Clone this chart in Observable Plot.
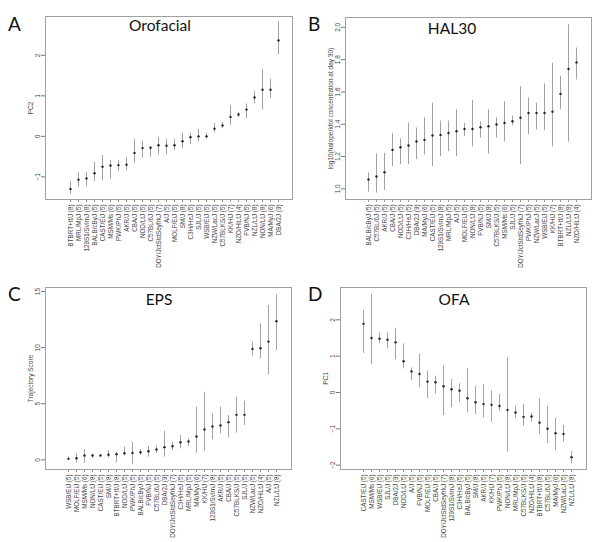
<!DOCTYPE html>
<html><head><meta charset="utf-8">
<script src="https://cdn.jsdelivr.net/npm/d3@7"></script>
<script src="https://cdn.jsdelivr.net/npm/@observablehq/plot@0.6"></script>
<style>
body{margin:0;background:#fff;}
#page{position:relative;width:600px;height:542px;overflow:hidden;font-family:Lato,"Open Sans",sans-serif;}
.panel{position:absolute;width:300px;height:271px;}
.letter{position:absolute;font-size:19px;color:#111;font-family:Lato,sans-serif;}
.title{position:absolute;font-size:15.5px;color:#111;font-family:Lato,sans-serif;transform:translateX(-50%);white-space:nowrap;}
</style></head>
<body><div id="page"></div>
<script>
// ---- Panel A: Orofacial (PC2)
const aNames = ["BTBRT+tf/J (8)","MRL/MpJ (5)","129S1/SvImJ (8)","BALB/cByJ (5)","CAST/EiJ (5)","MSM/Ms (6)","PWK/PhJ (5)","AKR/J (5)","CBA/J (5)","NOD/LtJ (5)","C57BL/6J (5)","DOY/JctStdSeyfrkJ (7)","A/J (5)","MOLF/EiJ (5)","SM/J (8)","C3H/HeJ (5)","SJL/J (5)","WSB/EiJ (5)","NZW/LacJ (5)","C57BLKS/J (5)","KK/HlJ (7)","NZO/HlLtJ (4)","FVB/NJ (5)","NZL/LtJ (8)","NON/LtJ (8)","MA/MyJ (6)","DBA/2J (9)"];
const aMean = [-1.30,-1.07,-1.04,-0.91,-0.75,-0.72,-0.71,-0.70,-0.41,-0.29,-0.28,-0.22,-0.23,-0.22,-0.12,-0.02,0.00,0.00,0.19,0.27,0.48,0.54,0.66,0.96,1.15,1.15,2.37];
const aLo = [-1.43,-1.26,-1.25,-1.12,-1.10,-1.06,-0.87,-0.85,-0.66,-0.54,-0.52,-0.46,-0.45,-0.35,-0.31,-0.20,-0.14,-0.08,0.08,0.19,0.27,0.47,0.44,0.81,0.65,0.94,2.02];
const aHi = [-1.11,-0.89,-0.90,-0.64,-0.47,-0.60,-0.60,-0.52,-0.08,-0.12,-0.25,-0.03,-0.08,-0.08,0.08,0.08,0.17,0.07,0.32,0.34,0.76,0.59,0.80,1.11,1.65,1.41,2.83];

// ---- Panel B: HAL30
const bNames = ["BALB/cByJ (5)","C57BL/6J (5)","AKR/J (5)","CBA/J (5)","NOD/LtJ (5)","C3H/HeJ (5)","DBA/2J (9)","MA/MyJ (6)","CAST/EiJ (5)","129S1/SvImJ (8)","MRL/MpJ (5)","A/J (5)","MOLF/EiJ (5)","NON/LtJ (8)","FVB/NJ (5)","SM/J (8)","C57BLKS/J (5)","MSM/Ms (6)","SJL/J (5)","DOY/JctStdSeyfrkJ (7)","PWK/PhJ (5)","NZW/LacJ (5)","WSB/EiJ (5)","KK/HlJ (7)","BTBRT+tf/J (8)","NZL/LtJ (8)","NZO/HlLtJ (4)"];
const bMean = [1.058,1.076,1.103,1.241,1.258,1.268,1.293,1.303,1.330,1.334,1.346,1.357,1.371,1.371,1.381,1.388,1.398,1.408,1.419,1.440,1.470,1.470,1.470,1.478,1.588,1.742,1.783];
const bLo = [0.98,0.973,0.99,1.138,1.15,1.15,1.18,1.21,1.138,1.20,1.23,1.20,1.326,1.26,1.313,1.216,1.315,1.29,1.39,1.15,1.336,1.365,1.36,1.26,1.49,1.289,1.674];
const bHi = [1.10,1.216,1.22,1.344,1.31,1.408,1.377,1.44,1.53,1.42,1.42,1.49,1.406,1.546,1.416,1.49,1.44,1.54,1.45,1.633,1.563,1.53,1.65,1.777,1.695,2.016,1.872];

// ---- Panel C: EPS (Trajectory Score)
const cNames = ["WSB/EiJ (5)","MOLF/EiJ (5)","MSM/Ms (6)","NON/LtJ (8)","CAST/EiJ (5)","SM/J (8)","BTBRT+tf/J (8)","NOD/LtJ (5)","PWK/PhJ (5)","BALB/cByJ (5)","FVB/NJ (5)","C57BL/6J (5)","DBA/2J (9)","DOY/JctStdSeyfrkJ (7)","C3H/HeJ (5)","MRL/MpJ (5)","MA/MyJ (6)","KK/HlJ (7)","129S1/SvImJ (8)","AKR/J (5)","CBA/J (5)","C57BLKS/J (5)","SJL/J (5)","NZW/LacJ (5)","NZO/HlLtJ (4)","A/J (5)","NZL/LtJ (8)"];
const cMean = [0.09,0.15,0.39,0.39,0.39,0.45,0.50,0.59,0.62,0.68,0.77,0.92,1.13,1.22,1.57,1.63,2.08,2.70,2.97,3.06,3.36,4.01,4.01,9.89,9.95,10.54,12.36];
const cLo = [-0.06,-0.30,-0.30,0.15,0.33,0.18,-0.27,0.33,-0.42,0.39,0.24,0.59,0.24,0.83,0.98,1.19,0.59,0.77,1.78,2.32,1.96,2.38,3.06,9.24,9.00,7.57,9.74];
const cHi = [0.24,0.53,0.92,0.53,0.48,0.83,0.68,1.13,1.57,0.92,1.19,1.22,2.55,1.57,2.17,1.87,4.69,6.03,4.10,4.69,3.95,5.58,5.23,10.48,12.12,13.75,14.70];

// ---- Panel D: OFA (PC1)
const dNames = ["CAST/EiJ (5)","MSM/Ms (6)","WSB/EiJ (5)","SJL/J (5)","DBA/2J (9)","NOD/LtJ (5)","A/J (5)","FVB/NJ (5)","MOLF/EiJ (5)","CBA/J (5)","DOY/JctStdSeyfrkJ (7)","129S1/SvImJ (8)","C3H/HeJ (5)","BALB/cByJ (5)","SM/J (8)","AKR/J (5)","KK/HlJ (7)","PWK/PhJ (5)","NON/LtJ (8)","MRL/MpJ (5)","C57BLKS/J (5)","NZO/HlLtJ (4)","BTBRT+tf/J (8)","C57BL/6J (5)","MA/MyJ (6)","NZW/LacJ (5)","NZL/LtJ (8)"];
const dMean = [1.89,1.50,1.48,1.45,1.38,0.86,0.58,0.51,0.30,0.28,0.17,0.09,0.05,-0.16,-0.27,-0.32,-0.34,-0.37,-0.48,-0.55,-0.67,-0.66,-0.83,-1.00,-1.12,-1.14,-1.78];
const dLo = [1.08,0.77,1.34,1.20,0.90,0.65,0.33,0.13,-0.17,-0.04,-0.63,-0.42,-0.28,-0.56,-0.61,-0.70,-0.82,-0.51,-1.64,-0.72,-0.93,-0.82,-1.16,-1.41,-1.60,-1.37,-1.96];
const dHi = [2.26,2.70,1.64,1.64,1.77,1.34,0.68,1.06,0.59,0.45,0.74,0.36,0.24,0.65,0.17,0.22,0.04,-0.06,0.95,-0.38,-0.33,-0.57,-0.17,-0.39,-0.71,-0.91,-1.62];

const panels = [
  {letter:"A", title:"Orofacial", left:0, top:0, names:aNames, mean:aMean, lo:aLo, hi:aHi,
   ydom:[-1.56,2.96], yticks:[-1,0,1,2], yfmt:d3.format("d"), ylabel:"PC2",
   mL:45, mR:8, mT:16, mB:72, inL:17.7, inR:7, tx:160, ty:16},
  {letter:"B", title:"HAL30", left:300, top:0, names:bNames, mean:bMean, lo:bLo, hi:bHi,
   ydom:[0.934,2.061], yticks:[1.0,1.2,1.4,1.6,1.8,2.0], yfmt:d3.format(".1f"), ylabel:"log10(haloperidol concentration at day 30)",
   mL:45, mR:9, mT:17, mB:72, inL:17.7, inR:10, tx:152, ty:19},
  {letter:"C", title:"EPS", left:0, top:270, names:cNames, mean:cMean, lo:cLo, hi:cHi,
   ydom:[-0.86,15.36], yticks:[0,5,10,15], yfmt:d3.format("d"), ylabel:"Trajectory Score",
   mL:45, mR:9, mT:17, mB:72, inL:17.7, inR:9.3, tx:159, ty:20},
  {letter:"D", title:"OFA", left:300, top:270, names:dNames, mean:dMean, lo:dLo, hi:dHi,
   ydom:[-2.12,2.89], yticks:[-2,-1,0,1,2], yfmt:d3.format("d"), ylabel:"PC1",
   mL:40, mR:14, mT:17, mB:72, inL:17.3, inR:10, tx:154, ty:20}
];

const page = document.getElementById("page");
for (const p of panels) {
  const data = p.names.map((n,i)=>({name:n, mean:p.mean[i], lo:p.lo[i], hi:p.hi[i]}));
  const chart = Plot.plot({
    width:300, height:271,
    marginLeft:p.mL, marginRight:p.mR, marginTop:p.mT, marginBottom:p.mB,
    style:{fontFamily:"'Liberation Sans Narrow','Liberation Sans',Arial,sans-serif", background:"transparent"},
    x:{type:"point", domain:p.names, padding:0, insetLeft:p.inL, insetRight:p.inR},
    y:{domain:p.ydom},
    marks:[
      Plot.frame({stroke:"#a0a0a0", strokeWidth:1}),
      Plot.axisY({ticks:p.yticks, tickFormat:p.yfmt, tickRotate:-90, tickSize:4, tickPadding:2,
        fontSize:6.5, fill:"#444", stroke:"#777", label:p.ylabel, labelAnchor:"center", labelArrow:"none", labelOffset:17}),
      Plot.axisX({tickRotate:-90, tickSize:3, tickPadding:2, fontSize:6.3, fill:"#444", stroke:"#999", label:null}),
      Plot.ruleX(data, {x:"name", y1:"lo", y2:"hi", stroke:"#8a8a8a", strokeWidth:0.8}),
      Plot.dot(data, {x:"name", y:"mean", r:1.2, fill:"#222", stroke:"none"})
    ]
  });
  const div = document.createElement("div");
  div.className = "panel";
  div.style.left = p.left+"px"; div.style.top = p.top+"px";
  div.appendChild(chart);
  const L = document.createElement("div");
  L.className = "letter"; L.textContent = p.letter;
  L.style.left = "8px"; L.style.top = "12px";
  div.appendChild(L);
  const T = document.createElement("div");
  T.className = "title"; T.textContent = p.title;
  T.style.left = p.tx+"px"; T.style.top = p.ty+"px";
  div.appendChild(T);
  page.appendChild(div);
}
</script></body></html>
